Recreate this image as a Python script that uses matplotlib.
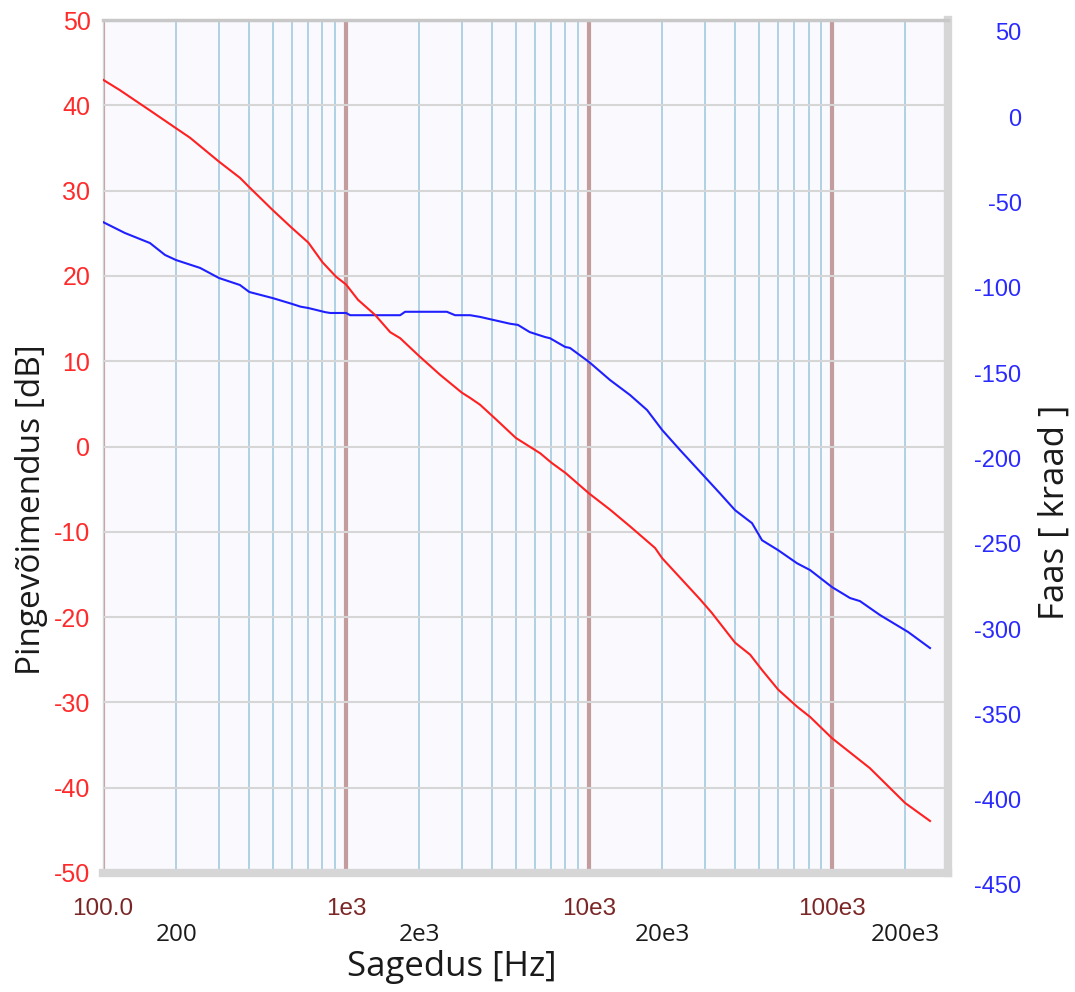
import matplotlib
matplotlib.use('Agg')
import matplotlib.pyplot as plt
from matplotlib.ticker import FixedLocator

# ---- data ----
gain_freq = [100, 117, 156, 200, 228, 300, 366, 400, 500, 600, 700, 800, 910, 1000,
             1120, 1320, 1520, 1670, 2000, 2440, 3000, 3240, 3560, 4100, 5000, 6300,
             7000, 8000, 10000, 12200, 14800, 18700, 20000, 28600, 32000, 39900, 46000,
             51500, 60000, 71800, 81200, 100000, 143000, 200000, 253000]
gain_db = [43.0, 41.8, 39.4, 37.3, 36.2, 33.4, 31.5, 30.4, 27.7, 25.6, 23.9, 21.6, 19.9, 19.0,
           17.2, 15.4, 13.4, 12.7, 10.6, 8.4, 6.3, 5.7, 4.9, 3.3, 1.0, -0.8,
           -1.9, -3.1, -5.5, -7.4, -9.4, -11.9, -13.1, -17.9, -19.5, -23.0, -24.4,
           -26.2, -28.5, -30.5, -31.7, -34.2, -37.7, -41.8, -43.9]

phase_freq = [100, 123, 156, 180, 200, 251, 300, 366, 400, 500, 600, 650, 700, 820, 860,
              1000, 1040, 1670, 1750, 2600, 2810, 3240, 3560, 4730, 5100, 5700, 6590, 6910,
              7970, 8350, 10000, 12200, 14750, 17330, 20000, 23670, 30000, 34600, 39900,
              46850, 51500, 59950, 71760, 81200, 100000, 118600, 130300, 157600, 205600, 253000]
phase_deg = [-61.4, -67.8, -73.7, -80.7, -83.7, -88.3, -94.2, -98.3, -102.4, -106.0, -109.4,
             -111.0, -111.8, -114.2, -114.7, -114.7, -116.0, -116.0, -114.0, -114.0, -116.0,
             -116.0, -117.0, -121.0, -121.7, -125.9, -128.8, -129.5, -134.6, -135.2, -143.4,
             -154.0, -162.8, -171.6, -183.3, -195.0, -210.9, -220.5, -230.3, -237.9, -247.9,
             -253.7, -261.4, -265.4, -275.4, -281.8, -283.6, -291.8, -301.7, -311.1]

gain_ticks = list(range(-50, 51, 10))
phase_ticks = list(range(-450, 51, 50))
major_freqs = [100, 1000, 10000, 100000]
major_labels = ['100.0', '1e3', '10e3', '100e3']
minor_freqs = [m * d for d in [100, 1000, 10000, 100000] for m in range(2, 10) if m * d <= 300000]
minor_named = {200: '200', 2000: '2e3', 20000: '20e3', 200000: '200e3'}
minor_labels = [minor_named.get(f, '') for f in minor_freqs]

plt.rcParams['font.family'] = ['Liberation Sans', 'DejaVu Sans']
plt.rcParams['axes.unicode_minus'] = False

W, H = 1075, 992
fig = plt.figure(figsize=(W / 100, H / 100), dpi=100)
L, R, T, B = 103, 948, 20, 873
ax = fig.add_axes([L / W, 1 - B / H, (R - L) / W, (B - T) / H])
ax.set_facecolor('#f9f9fe')
ax.set_xscale('log')
ax.set_xlim(100, 300000)
ax.set_ylim(-50, 50)
ax.xaxis.set_major_locator(FixedLocator(major_freqs))
ax.xaxis.set_minor_locator(FixedLocator(minor_freqs))
ax.set_xticks(major_freqs, major_labels)
ax.set_xticks(minor_freqs, minor_labels, minor=True)
ax.set_yticks(gain_ticks)
ax.set_axisbelow(True)
ax.grid(which='minor', axis='x', color='#a9cee2', lw=1.3)
ax.grid(which='major', axis='x', color='#c39d9d', lw=3)
ax.grid(which='major', axis='y', color='#d6d6d6', lw=1.5)
ax.tick_params(axis='x', which='major', length=0, pad=18, labelsize=17.5, labelcolor='#7b2626')
ax.tick_params(axis='x', which='minor', length=0, pad=36, labelsize=17.5, labelcolor='#1a1a1a')
for lbl in ax.get_xticklabels(minor=True):
    lbl.set_family(['Open Sans', 'DejaVu Sans'])
ax.tick_params(axis='y', length=0, pad=9, labelsize=18, labelcolor='#ff2a2a')
ax.spines['left'].set_color('#d4d4d4'); ax.spines['left'].set_linewidth(1)
ax.spines['top'].set_color('#c8c8c8'); ax.spines['top'].set_linewidth(2.5)
ax.spines['right'].set_color('#d6d6d6'); ax.spines['right'].set_linewidth(6)
ax.spines['bottom'].set_color('#d6d6d6'); ax.spines['bottom'].set_linewidth(6)

ax2 = fig.add_axes([L / W, 1 - (B + 12) / H, (R - L) / W, (B - T) / H])
ax2.patch.set_visible(False)
for s in ax2.spines.values():
    s.set_visible(False)
ax2.set_xscale('log')
ax2.set_xlim(100, 300000)
ax2.set_ylim(-450, 50)
ax2.set_xticks([])
ax2.set_xticks([], minor=True)
ax2.yaxis.tick_right()
ax2.set_yticks(phase_ticks)
ax2.tick_params(axis='y', length=0, pad=53, labelsize=17, labelcolor='#2a2aff')
for lbl in ax2.get_yticklabels():
    lbl.set_horizontalalignment('right')

ax2.plot(phase_freq, phase_deg, color='#2020ff', lw=1.5)
ax2.plot(gain_freq, gain_db, color='#ff2020', lw=1.5, transform=ax.transData)

lab_font = ['Open Sans', 'DejaVu Sans']
fig.text(452 / W, 1 - 967 / H, 'Sagedus [Hz]', ha='center', va='center', fontsize=25,
         family=lab_font, color='#1a1a1a')
fig.text(32 / W, 1 - 510 / H, 'Pingevõimendus [dB]', ha='center', va='center', rotation=90,
         fontsize=24, family=lab_font, color='#1a1a1a')
fig.text(1055 / W, 1 - 512 / H, 'Faas [ kraad ]', ha='center', va='center', rotation=90,
         fontsize=25, family=lab_font, color='#1a1a1a')

fig.savefig('out.png', dpi=100, facecolor='white')
